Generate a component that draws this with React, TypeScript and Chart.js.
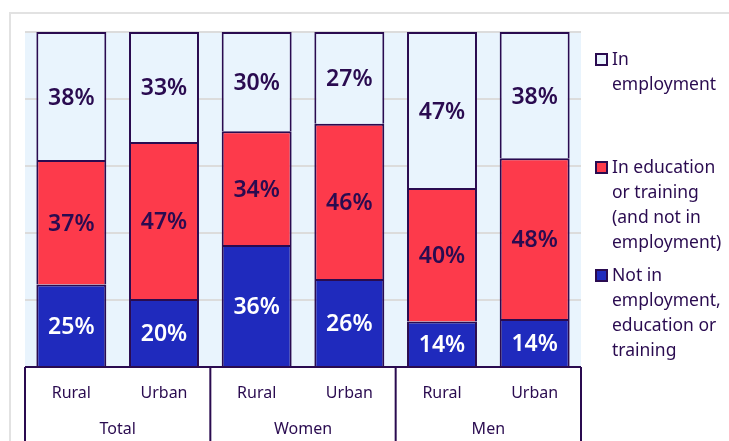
import React, { useEffect, useRef } from "react";
import { Chart, registerables } from "chart.js";

Chart.register(...registerables);

const categories = ["Rural", "Urban", "Rural", "Urban", "Rural", "Urban"];
const groups = ["Total", "Women", "Men"];
const seriesNames = ["In employment", "In education or training (and not in employment)", "Not in employment, education or training"];
const employment = [38.2, 32.8, 29.6, 27.4, 46.6, 37.7];
const education = [37.2, 46.9, 34.0, 46.3, 39.8, 48.0];
const neet = [24.6, 20.3, 36.4, 26.3, 13.6, 14.3];
const legendLines = [["In", "employment"], ["In education", "or training", "(and not in", "employment)"], ["Not in", "employment,", "education or", "training"]];

const DARK = "#2a0b50";
const BG = "#e9f4fd";
const RED = "#fd3a4b";
const BLUE = "#1f2abd";
const FONT = "'Noto Sans', sans-serif";

const App = () => {
  const ref = useRef<HTMLCanvasElement>(null);
  useEffect(() => {
    const canvas = ref.current!;
    const bgPlugin = {
      id: "bg",
      beforeDraw(chart: any) {
        const { ctx, chartArea } = chart;
        ctx.save();
        ctx.strokeStyle = "#e2e2e2";
        ctx.lineWidth = 2;
        ctx.beginPath();
        ctx.moveTo(10, 441);
        ctx.lineTo(10, 13);
        ctx.lineTo(729, 13);
        ctx.stroke();
        ctx.fillStyle = BG;
        ctx.fillRect(chartArea.left, chartArea.top, chartArea.right - chartArea.left, chartArea.bottom - chartArea.top);
        ctx.restore();
      },
    };
    const labelPlugin = {
      id: "vals",
      afterDatasetsDraw(chart: any) {
        const { ctx } = chart;
        ctx.save();
        ctx.font = `600 23px ${FONT}`;
        ctx.textAlign = "center";
        ctx.textBaseline = "middle";
        chart.data.datasets.forEach((ds: any, di: number) => {
          const meta = chart.getDatasetMeta(di);
          meta.data.forEach((el: any, i: number) => {
            const { x, y, base } = el.getProps(["x", "y", "base"], true);
            ctx.fillStyle = ds.labelColor;
            ctx.fillText(Math.round(ds.data[i]) + "%", x, (y + base) / 2 + 2);
          });
        });
        ctx.restore();
      },
      afterDraw(chart: any) {
        const { ctx, chartArea } = chart;
        const xs = chart.scales.x;
        ctx.save();
        ctx.strokeStyle = DARK;
        ctx.lineWidth = 2;
        ctx.beginPath();
        ctx.moveTo(chartArea.left, chartArea.bottom);
        ctx.lineTo(chartArea.right, chartArea.bottom);
        const bounds = [chartArea.left];
        for (let g = 1; g < groups.length; g++) {
          bounds.push((xs.getPixelForValue(g * 2 - 1) + xs.getPixelForValue(g * 2)) / 2);
        }
        bounds.push(chartArea.right);
        bounds.forEach((bx) => {
          ctx.moveTo(bx, chartArea.bottom);
          ctx.lineTo(bx, 441);
        });
        ctx.stroke();
        ctx.fillStyle = DARK;
        ctx.font = `16px ${FONT}`;
        ctx.textAlign = "center";
        ctx.textBaseline = "middle";
        groups.forEach((g, gi) => {
          ctx.fillText(g, (bounds[gi] + bounds[gi + 1]) / 2, 429);
        });
        // legend
        const fills = [BG, RED, BLUE];
        const tops = [59, 167, 275];
        ctx.font = `17.5px ${FONT}`;
        ctx.textAlign = "left";
        legendLines.forEach((lines, li) => {
          ctx.fillStyle = fills[li];
          ctx.fillRect(596, tops[li] - 5, 11, 11);
          ctx.strokeStyle = DARK;
          ctx.lineWidth = 2;
          ctx.strokeRect(596, tops[li] - 5, 11, 11);
          ctx.fillStyle = DARK;
          lines.forEach((t, k) => ctx.fillText(t, 612, tops[li] + k * 25 + 1));
        });
        ctx.restore();
      },
    };
    const chart = new Chart(canvas, {
      type: "bar",
      data: {
        labels: categories,
        datasets: [
          { label: seriesNames[2], data: neet, backgroundColor: BLUE, labelColor: "#ffffff" } as any,
          { label: seriesNames[1], data: education, backgroundColor: RED, labelColor: DARK } as any,
          { label: seriesNames[0], data: employment, backgroundColor: BG, labelColor: DARK } as any,
        ].map((d: any) => ({
          ...d,
          borderColor: DARK,
          borderWidth: { left: 2, right: 2, top: 2, bottom: 0 },
          borderSkipped: false,
          barPercentage: 0.755,
          categoryPercentage: 1,
        })),
      },
      options: {
        responsive: false,
        animation: false,
        layout: { padding: { left: 25, top: 32, right: 148, bottom: 0 } },
        plugins: { legend: { display: false }, tooltip: { enabled: false } },
        scales: {
          x: {
            stacked: true,
            grid: { display: false, drawTicks: false },
            border: { display: false },
            ticks: { color: DARK, font: { family: FONT, size: 16 }, padding: 17, maxRotation: 0 },
            afterFit: (s: any) => { s.height = 74; },
          },
          y: {
            stacked: true,
            min: 0,
            max: 100,
            ticks: { display: false, stepSize: 20 },
            grid: { color: "#dcdcdc", lineWidth: 2, drawTicks: false },
            border: { display: false },
            afterFit: (s: any) => { s.width = 0; },
          },
        },
      },
      plugins: [bgPlugin, labelPlugin],
    });
    return () => chart.destroy();
  }, []);
  return (
    <div style={{ position: "absolute", left: 0, top: 0, width: 729, height: 441, background: "#fff" }}>
      <canvas ref={ref} width={729} height={441} style={{ width: 729, height: 441, display: "block" }} />
    </div>
  );
};

export default App;
